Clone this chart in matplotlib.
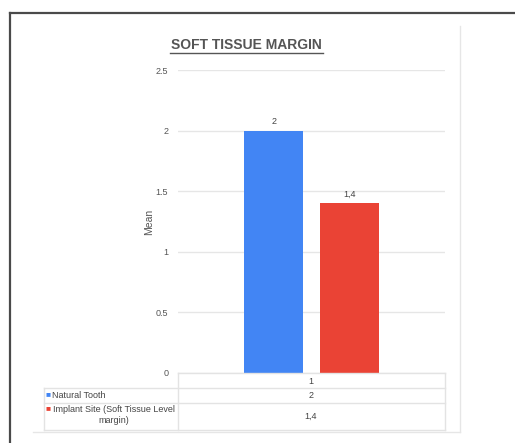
import matplotlib
matplotlib.use("Agg")
import matplotlib.pyplot as plt
from matplotlib.lines import Line2D

plt.rcParams['font.family'] = ['Liberation Sans', 'DejaVu Sans']

series = ["Natural Tooth", "Implant Site (Soft Tissue Level\nmargin)"]
means = [2, 1.4]
colors = ["#4285f4", "#ea4335"]
category = "1"
yticks = [0, 0.5, 1, 1.5, 2, 2.5]

W, H = 515, 443
fig = plt.figure(figsize=(W / 100, H / 100), dpi=100)


def fx(px):
    return px / W


def fy(py):
    return 1 - py / H


def hline(y, x0, x1, color, lw=1.0):
    fig.add_artist(Line2D([fx(x0), fx(x1)], [fy(y), fy(y)], color=color, lw=lw,
                          transform=fig.transFigure))


def vline(x, y0, y1, color, lw=1.0):
    fig.add_artist(Line2D([fx(x), fx(x)], [fy(y0), fy(y1)], color=color, lw=lw,
                          transform=fig.transFigure))


def fmt(v):
    return f"{v:g}".replace(".", ",")


# outer frame
hline(13, 10, 515, "#4a4a4a", 1.6)
vline(10, 13, 443, "#4a4a4a", 1.6)
# chart panel border
vline(460, 26, 432, "#e6e6e6", 1.0)
hline(432, 33, 460, "#e6e6e6", 1.0)

ax = fig.add_axes([fx(178), fy(373), fx(445) - fx(178), fy(70) - fy(373)])
offsets = [-0.142, 0.142]
bars = ax.bar(offsets, means, width=0.22, color=colors, zorder=3)
ax.bar_label(bars, labels=[fmt(v) for v in means],
             padding=3, fontsize=6.5, color="#444444")
ax.set_xlim(-0.5, 0.5)
ax.set_ylim(0, 2.5)
ax.set_yticks(yticks)
ax.set_yticklabels([f"{t:g}" for t in yticks])
ax.set_xticks([])
ax.tick_params(axis="y", length=0, pad=7, labelsize=6.5, labelcolor="#555555")
ax.grid(axis="y", color="#e6e6e6", lw=1.0, zorder=0)
for s in ax.spines.values():
    s.set_visible(False)
ax.set_ylabel("Mean", fontsize=7.5, color="#555555", labelpad=1)

# title with underline
fig.text(fx(246), fy(45), "SOFT TISSUE MARGIN", ha="center", va="center",
         fontsize=10, fontweight="bold", color="#555555")
hline(53, 170, 323, "#555555", 1.0)

# data table under the plot
grid_c = "#e3e3e3"
hline(373, 178, 445, grid_c)
hline(388, 44, 445, grid_c)
hline(403, 44, 445, grid_c)
hline(430, 44, 445, grid_c)
vline(178, 373, 430, grid_c)
vline(445, 373, 430, grid_c)
vline(44, 388, 430, grid_c)

fig.text(fx(311), fy(381), category, ha="center", va="center", fontsize=6.5, color="#444444")
row_y = [395, 416]
for v, ry in zip(means, row_y):
    fig.text(fx(311), fy(ry), fmt(v), ha="center", va="center",
             fontsize=6.5, color="#444444")
fig.text(fx(46), fy(395), "\u25a0", ha="left", va="center", fontsize=6, color=colors[0])
fig.text(fx(52), fy(395), series[0], ha="left", va="center", fontsize=6.5, color="#444444")
fig.text(fx(46), fy(409), "\u25a0", ha="left", va="center", fontsize=6, color=colors[1])
fig.text(fx(114), fy(415), series[1], ha="center", va="center", fontsize=6.5,
         color="#444444", multialignment="center", linespacing=1.2)

fig.savefig("out.png", dpi=100)
